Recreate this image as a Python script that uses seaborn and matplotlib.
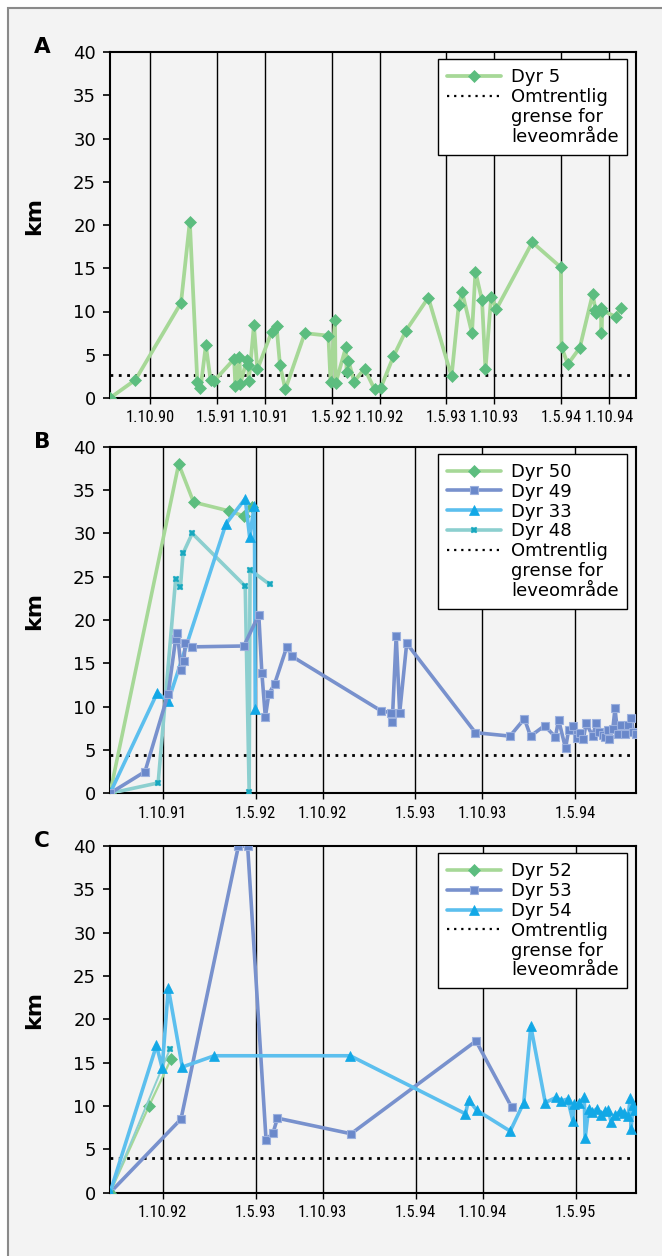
import matplotlib
matplotlib.use("Agg")
import matplotlib.pyplot as plt
import matplotlib.dates as mdates
from matplotlib.lines import Line2D
from matplotlib.patches import Rectangle
from matplotlib import font_manager
import pandas as pd
import seaborn as sns

# ---------------- data ----------------
a5_dates = ["1990-05-27", "1990-08-16", "1991-01-08", "1991-02-05", "1991-03-01", "1991-03-11",
            "1991-03-28", "1991-04-12", "1991-04-24", "1991-06-26", "1991-06-30", "1991-07-13",
            "1991-07-16", "1991-08-05", "1991-08-10", "1991-08-12", "1991-08-28", "1991-09-08",
            "1991-10-23", "1991-11-08", "1991-11-19", "1991-12-06", "1992-02-06", "1992-04-21",
            "1992-04-28", "1992-05-12", "1992-05-14", "1992-06-16", "1992-06-18", "1992-06-24",
            "1992-07-12", "1992-08-14", "1992-09-15", "1992-10-05", "1992-11-14", "1992-12-24",
            "1993-03-05", "1993-05-18", "1993-06-10", "1993-06-21", "1993-07-22", "1993-08-02",
            "1993-08-23", "1993-09-03", "1993-09-21", "1993-10-08", "1994-01-30", "1994-05-01",
            "1994-05-03", "1994-05-23", "1994-06-30", "1994-08-10", "1994-08-19", "1994-08-22",
            "1994-09-05", "1994-09-07", "1994-09-10", "1994-10-23", "1994-11-07"]
a5_km = [0.0, 2.1, 11.0, 20.4, 1.8, 1.1,
         6.1, 2.1, 2.0, 4.5, 1.4, 4.7,
         1.6, 4.4, 3.8, 2.0, 8.4, 3.3,
         7.6, 8.3, 3.8, 1.0, 7.5, 7.2,
         1.8, 9.0, 1.7, 5.9, 3.0, 4.3,
         1.9, 3.4, 1.0, 1.2, 4.8, 7.8,
         11.6, 2.5, 10.8, 12.2, 7.5, 14.6,
         11.3, 3.3, 11.7, 10.3, 18.0, 15.1,
         5.9, 3.9, 5.8, 12.0, 10.2, 9.8,
         10.4, 7.5, 10.1, 9.4, 10.4]

b50_dates = ["1991-06-03", "1991-11-07", "1991-12-11", "1992-02-29", "1992-04-04", "1992-04-22"]
b50_km = [0, 38.0, 33.6, 32.6, 32.0, 33.0]

b49_dates = ["1991-06-03", "1991-08-22", "1991-10-14", "1991-10-31", "1991-11-04", "1991-11-13",
             "1991-11-19", "1991-11-22", "1991-12-08", "1992-04-04", "1992-05-08", "1992-05-15",
             "1992-05-23", "1992-05-31", "1992-06-13", "1992-07-11", "1992-07-23", "1993-02-12",
             "1993-03-07", "1993-03-09", "1993-03-18", "1993-03-26", "1993-04-11", "1993-09-15",
             "1993-12-03", "1994-01-05", "1994-01-19", "1994-02-20", "1994-03-17", "1994-03-24",
             "1994-04-09", "1994-04-16", "1994-04-25", "1994-05-05", "1994-05-13", "1994-05-20",
             "1994-05-26", "1994-06-10", "1994-06-18", "1994-06-24", "1994-07-03", "1994-07-09",
             "1994-07-14", "1994-07-18", "1994-07-26", "1994-07-31", "1994-08-06", "1994-08-14",
             "1994-08-24", "1994-08-29", "1994-09-06", "1994-09-11", "1994-09-16"]
b49_km = [0, 2.5, 11.5, 17.8, 18.5, 14.2,
          15.3, 17.4, 16.9, 17.0, 20.6, 13.9,
          8.8, 11.5, 12.6, 16.9, 15.8, 9.5,
          9.3, 8.2, 18.2, 9.3, 17.3, 7.0,
          6.6, 8.6, 6.6, 7.8, 6.5, 8.5,
          5.2, 7.3, 7.8, 6.4, 7.0, 6.3,
          8.1, 6.6, 8.1, 7.1, 6.7, 6.5,
          7.3, 6.3, 7.4, 9.8, 6.9, 7.9,
          6.9, 7.9, 8.7, 7.1, 6.9]

b33_dates = ["1991-06-03", "1991-09-19", "1991-10-14", "1992-02-23", "1992-04-07", "1992-04-17",
             "1992-04-28", "1992-04-30"]
b33_km = [0, 11.6, 10.6, 31.1, 34.0, 29.6, 33.2, 9.7]

b48_dates = ["1991-06-03", "1991-09-21", "1991-10-31", "1991-11-11", "1991-11-17", "1991-12-08",
             "1992-04-07", "1992-04-16", "1992-04-18", "1992-06-02"]
b48_km = [0, 1.2, 24.7, 23.8, 27.7, 30.0, 23.9, 0.2, 25.8, 24.1]

c52_dates = ["1992-06-03", "1992-08-31", "1992-10-20"]
c52_km = [0, 10.0, 15.4]

c_extra_dates = ["1992-06-03", "1992-10-18"]
c_extra_km = [0, 16.6]

c53_dates = ["1992-06-03", "1992-11-12", "1993-03-23", "1993-04-13", "1993-05-25", "1993-06-10",
             "1993-06-20", "1993-12-05", "1994-09-16", "1994-12-06"]
c53_km = [0, 8.5, 40, 40, 6.1, 6.9, 8.6, 6.8, 17.5, 9.9]

c54_dates = ["1992-06-03", "1992-09-17", "1992-09-30", "1992-10-14", "1992-11-15", "1993-01-27",
             "1993-12-03", "1994-08-23", "1994-08-30", "1994-09-18", "1994-12-03", "1995-01-03",
             "1995-01-19", "1995-02-21", "1995-03-18", "1995-03-29", "1995-04-13", "1995-04-25",
             "1995-04-28", "1995-05-09", "1995-05-21", "1995-05-23", "1995-05-31", "1995-06-08",
             "1995-06-19", "1995-06-28", "1995-07-08", "1995-07-15", "1995-07-21", "1995-07-31",
             "1995-08-11", "1995-08-19", "1995-08-29", "1995-09-03", "1995-09-05", "1995-09-09",
             "1995-09-14"]
c54_km = [0, 17.0, 14.4, 23.6, 14.5, 15.8,
          15.8, 9.1, 10.7, 9.5, 7.1, 10.4,
          19.2, 10.4, 11.0, 10.6, 10.8, 8.3,
          10.2, 10.4, 11.0, 6.3, 9.7, 9.3,
          9.7, 9.0, 9.4, 9.5, 8.2, 9.0,
          9.4, 9.2, 8.9, 10.9, 7.4, 10.1,
          9.5]

thresholds = {"A": 2.7, "B": 4.4, "C": 4.0}

a_ticks = ["1990-10-01", "1991-05-01", "1991-10-01", "1992-05-01", "1992-10-01",
           "1993-05-01", "1993-10-01", "1994-05-01", "1994-10-01"]
a_ticklabels = ["1.10.90", "1.5.91", "1.10.91", "1.5.92", "1.10.92",
                "1.5.93", "1.10.93", "1.5.94", "1.10.94"]
b_ticks = ["1991-10-01", "1992-05-01", "1992-10-01", "1993-05-01", "1993-10-01", "1994-05-01"]
b_ticklabels = ["1.10.91", "1.5.92", "1.10.92", "1.5.93", "1.10.93", "1.5.94"]
c_ticks = ["1992-10-01", "1993-05-01", "1993-10-01", "1994-05-01", "1994-10-01", "1995-05-01"]
c_ticklabels = ["1.10.92", "1.5.93", "1.10.93", "1.5.94", "1.10.94", "1.5.95"]

a_xlim = ["1990-05-27", "1994-12-26"]
b_xlim = ["1991-06-03", "1994-09-17"]
c_xlim = ["1992-06-03", "1995-09-16"]

legend_threshold = ["Omtrentlig", "grense for", "leveområde"]

# ---------------- styles ----------------
GREEN = dict(color="#a6d897", marker="D", markersize=6.2, markerfacecolor="#5cbd7f",
             markeredgecolor="#5cbd7f", markeredgewidth=0.5)
PURPLE = dict(color="#7891cd", marker="s", markersize=5.8, markerfacecolor="#6a88ca",
              markeredgecolor="#9bb0de", markeredgewidth=0.8)
BLUE = dict(color="#5cbfee", marker="^", markersize=7.0, markerfacecolor="#12a8e6",
            markeredgecolor="#12a8e6", markeredgewidth=0.5)
TEAL = dict(color="#8ccfcf", marker="X", markersize=4.5, markerfacecolor="#18a8bf",
            markeredgecolor="#18a8bf", markeredgewidth=0.3)

# ---------------- fonts ----------------
sns.set_style("white")
plt.rcParams["font.family"] = ["DejaVu Sans"]
plt.rcParams["text.color"] = "black"
plt.rcParams["axes.labelcolor"] = "black"
plt.rcParams["xtick.color"] = "black"
plt.rcParams["ytick.color"] = "black"
names = {f.name for f in font_manager.fontManager.ttflist}
narrow = None
for cand in ["Liberation Sans Narrow", "DejaVu Sans Condensed", "Roboto Condensed",
             "Noto Sans Condensed", "Open Sans Condensed"]:
    if cand in names:
        narrow = cand
        break
XFAM = [narrow, "DejaVu Sans"] if narrow else ["DejaVu Sans"]
XT = 11.8 if narrow else 9.2
YT = 13
LG = 13

W, H = 662, 1256
fig = plt.figure(figsize=(W / 100, H / 100), dpi=100)
fig.patch.set_facecolor("white")
fig.add_artist(Rectangle((8 / W, -0.01), 1.1, 1.01 - 8 / H, transform=fig.transFigure,
                         facecolor="#f3f3f3", edgecolor="#8a8a8a", lw=1.5, zorder=-10))


def axes_rect(top_px, bottom_px, left_px=110, right_px=636):
    return [left_px / W, 1 - bottom_px / H, (right_px - left_px) / W, (bottom_px - top_px) / H]


def draw_series(ax, dates, km, style, lw, z):
    df = pd.DataFrame({"date": pd.to_datetime(dates), "km": km})
    sns.lineplot(data=df, x="date", y="km", ax=ax, lw=lw, estimator=None, sort=False,
                 legend=False, zorder=z, **style)


def style_panel(ax, xlim, ticks, ticklabels, thr, letter, top_px, handles, labels):
    ax.set_facecolor("none")
    ax.set_xlim(mdates.date2num(pd.to_datetime(xlim[0])), mdates.date2num(pd.to_datetime(xlim[1])))
    ax.set_ylim(0, 40)
    ax.set_yticks(range(0, 41, 5))
    ax.set_xticks(mdates.date2num(pd.to_datetime(ticks)))
    ax.set_xticklabels(ticklabels, fontfamily=XFAM)
    ax.grid(True, axis="x", color="black", lw=1.0)
    ax.grid(False, axis="y")
    ax.set_axisbelow(True)
    ax.axhline(thr, color="black", lw=2.0, ls=(0, (1, 2.0)), zorder=1.8)
    for s in ax.spines.values():
        s.set_visible(True)
        s.set_color("black")
        s.set_linewidth(1.5)
    ax.tick_params(axis="y", direction="out", left=True, length=5, width=1.2, pad=5,
                   labelsize=YT, colors="black")
    ax.tick_params(axis="x", direction="out", bottom=True, length=4, width=1.0, pad=5,
                   labelsize=XT, colors="black")
    ax.set_xlabel("")
    ax.set_ylabel("km", fontweight="bold", fontsize=16, color="black")
    ax.yaxis.set_label_coords(-0.125, 0.526)
    fig.text(42 / W, 1 - (top_px - 5) / H, letter, fontweight="bold", fontsize=15.5,
             ha="center", va="center", color="black")
    th = Line2D([], [], color="black", lw=1.6, ls=(0, (1, 2.2)))
    blank = Line2D([], [], color="none")
    leg = ax.legend(handles + [th, blank, blank], labels + legend_threshold,
                    loc="upper right", bbox_to_anchor=(0.9838, 0.979), borderaxespad=0,
                    frameon=True, fancybox=False, edgecolor="black", facecolor="white",
                    framealpha=1, fontsize=LG, handlelength=3.0, handletextpad=0.55,
                    labelspacing=0.1, borderpad=0.5, numpoints=1, labelcolor="black")
    leg.get_frame().set_linewidth(1.0)
    leg.set_zorder(10)


def handle(style, lw):
    return Line2D([], [], lw=lw, **style)


# ---------------- panel A ----------------
axA = fig.add_axes(axes_rect(52, 398))
draw_series(axA, a5_dates, a5_km, GREEN, 2.7, 3)
style_panel(axA, a_xlim, a_ticks, a_ticklabels, thresholds["A"], "A", 52,
            [handle(GREEN, 2.7)], ["Dyr 5"])

# ---------------- panel B ----------------
axB = fig.add_axes(axes_rect(446.7, 793.3))
draw_series(axB, b50_dates, b50_km, GREEN, 2.6, 3)
draw_series(axB, b48_dates, b48_km, TEAL, 2.6, 4)
draw_series(axB, b33_dates, b33_km, BLUE, 2.6, 5)
draw_series(axB, b49_dates, b49_km, PURPLE, 2.6, 6)
style_panel(axB, b_xlim, b_ticks, b_ticklabels, thresholds["B"], "B", 446.7,
            [handle(GREEN, 2.6), handle(PURPLE, 2.6), handle(BLUE, 2.6), handle(TEAL, 2.6)],
            ["Dyr 50", "Dyr 49", "Dyr 33", "Dyr 48"])

# ---------------- panel C ----------------
axC = fig.add_axes(axes_rect(846, 1192.7))
draw_series(axC, c53_dates, c53_km, PURPLE, 2.6, 3)
draw_series(axC, c52_dates, c52_km, GREEN, 1.6, 4)
draw_series(axC, c_extra_dates, c_extra_km, TEAL, 1.4, 4)
draw_series(axC, c54_dates, c54_km, BLUE, 2.6, 5)
style_panel(axC, c_xlim, c_ticks, c_ticklabels, thresholds["C"], "C", 846,
            [handle(GREEN, 2.6), handle(PURPLE, 2.6), handle(BLUE, 2.6)],
            ["Dyr 52", "Dyr 53", "Dyr 54"])

fig.savefig("out.png", dpi=100, facecolor=fig.get_facecolor())
